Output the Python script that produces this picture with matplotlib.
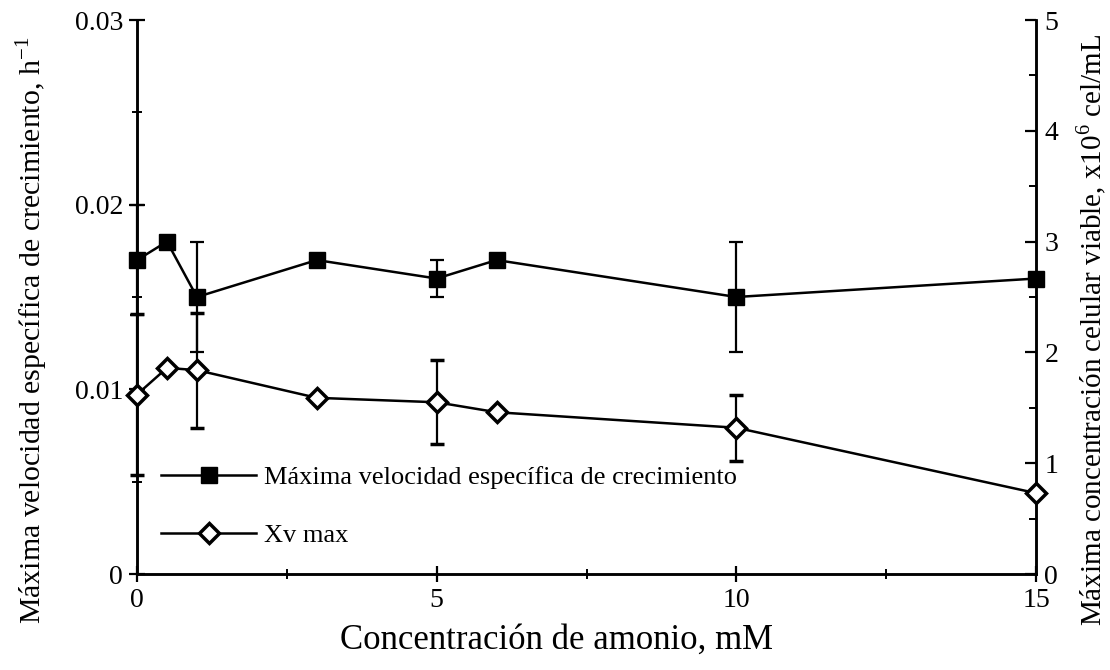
import matplotlib
matplotlib.use("Agg")
import matplotlib.pyplot as plt
from matplotlib.ticker import MultipleLocator
from matplotlib.lines import Line2D

plt.rcParams['font.family'] = ['Liberation Serif', 'DejaVu Serif']
plt.rcParams['mathtext.fontset'] = 'custom'
plt.rcParams['mathtext.rm'] = 'Liberation Serif'

# Data
amonio = [0, 0.5, 1, 3, 5, 6, 10, 15]
mu_max = [0.017, 0.018, 0.015, 0.017, 0.016, 0.017, 0.015, 0.016]
mu_err = [0.003, 0, 0.003, 0, 0.001, 0, 0.003, 0]
xv_max = [1.62, 1.86, 1.84, 1.59, 1.55, 1.46, 1.32, 0.73]
xv_err = [0.73, 0, 0.52, 0, 0.38, 0, 0.30, 0]

label_mu = "Máxima velocidad específica de crecimiento"
label_xv = "Xv max"

fig = plt.figure(figsize=(11.1, 6.7), dpi=100)
ax = fig.add_axes([137/1110, 96/670, 899/1110, 554/670])
ax2 = ax.twinx()

lw = 1.8
sq_style = dict(color='black', marker='s', ms=12, mfc='black', mec='black', lw=lw)
di_style = dict(color='black', marker='D', ms=10, mfc='white', mec='black', mew=2.5, lw=lw)

l1 = ax.errorbar(amonio, mu_max, yerr=mu_err, elinewidth=1.6, capsize=5,
                 capthick=1.6, clip_on=False, zorder=3, **sq_style)
l2 = ax2.errorbar(amonio, xv_max, yerr=xv_err, elinewidth=1.6, capsize=5,
                  capthick=1.6, clip_on=False, zorder=3, **di_style)
for a in (l1, l2):
    for c in a[1] + a[2]:
        c.set_clip_on(False)

ax.set_xlim(0, 15)
ax.set_ylim(0, 0.03)
ax2.set_ylim(0, 5)

ax.xaxis.set_major_locator(MultipleLocator(5))
ax.xaxis.set_minor_locator(MultipleLocator(2.5))
ax.yaxis.set_minor_locator(MultipleLocator(0.005))
ax2.yaxis.set_major_locator(MultipleLocator(1))
ax2.yaxis.set_minor_locator(MultipleLocator(0.5))

ax.set_yticks([0, 0.01, 0.02, 0.03])
ax.set_yticklabels(['0', '0.01', '0.02', '0.03'])

for a in (ax, ax2):
    a.spines['top'].set_visible(False)
    for s in a.spines.values():
        s.set_linewidth(1.8)

ax.tick_params(axis='both', which='major', direction='inout', length=12, width=1.6,
               labelsize=20, pad=4)
ax.tick_params(axis='both', which='minor', direction='inout', length=7, width=1.4)
ax2.tick_params(axis='y', which='major', direction='in', length=8, width=1.6,
                labelsize=20, pad=6)
ax2.tick_params(axis='y', which='minor', direction='in', length=5, width=1.4)

ax.set_xlabel("Concentración de amonio, mM", fontsize=25)
ax.set_ylabel("Máxima velocidad específica de crecimiento, h$^{-1}$", fontsize=21.5)
ax2.set_ylabel("Máxima concentración celular viable, x10$^{6}$ cel/mL", fontsize=21)
ax.xaxis.set_label_coords(0.467, -0.09)
ax.yaxis.set_label_coords(-0.097, 0.44)
ax2.yaxis.set_label_coords(1.043, 0.44)

handles = [Line2D([], [], **sq_style), Line2D([], [], **di_style)]
leg = ax2.legend(handles, [label_mu, label_xv], loc='lower left',
                 bbox_to_anchor=(0.015, 0.03), frameon=False, fontsize=19,
                 handlelength=3.6, handletextpad=0.3, labelspacing=1.3,
                 borderaxespad=0)

fig.savefig("out.png", dpi=100)
